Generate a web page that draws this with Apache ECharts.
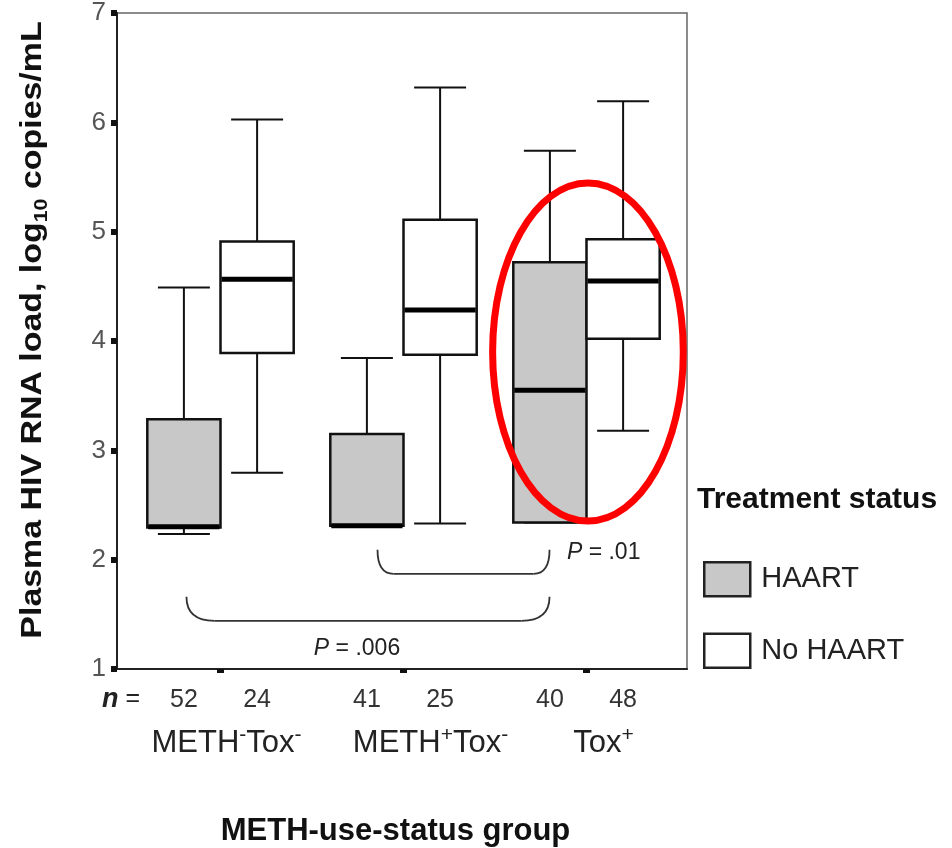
<!DOCTYPE html>
<html><head><meta charset="utf-8">
<script src="https://cdn.jsdelivr.net/npm/echarts@6/dist/echarts.min.js"></script>
<style>html,body{margin:0;padding:0;background:#fff}#c{width:952px;height:848px}</style>
</head><body><div id="c"></div>
<script>
// ---------------- data ----------------
const categories = ['METH-Tox-', 'METH+Tox-', 'Tox+'];
const seriesNames = ['HAART', 'No HAART'];
// [min, Q1, median, Q3, max] in log10 copies/mL
const haartStats = [
  [2.235, 2.295, 2.30, 3.285, 4.49],
  [2.31, 2.31, 2.31, 3.15, 3.845],
  [2.34, 2.34, 3.55, 4.72, 5.74]
];
const noHaartStats = [
  [2.795, 3.89, 4.565, 4.91, 6.025],
  [2.33, 3.875, 4.284, 5.11, 6.318],
  [3.18, 4.02, 4.549, 4.93, 6.193]
];
const haartN = [52, 41, 40];
const noHaartN = [24, 25, 48];
const yTicks = [1, 2, 3, 4, 5, 6, 7];
const yTitle = ['Plasma HIV RNA load, log', '10', ' copies/mL'];
const xTitle = 'METH-use-status group';
// significance brackets: [fromGroup, toGroup, topLevel, bottomLevel]
const brackets = [[0, 2, 1.66, 1.44], [1, 2, 2.09, 1.87]];
const pLabels = ['P = .006', 'P = .01'];
// highlighted group (red ellipse): [group, centre value]
const highlight = [2, 3.90];

// ---------------- layout / style ----------------
const FONT = 'Liberation Sans, Arial, Helvetica, sans-serif';
const BOX_FRAC = 0.4;          // box width as fraction of category band
const CAP_FRAC = 0.71;         // whisker cap width as fraction of box width
const bracketEnds = [[-0.186, -0.202], [-0.142, -0.202]]; // band offsets of bracket ends
const bracketRadius = [28, 16];
const pLabelPos = [[1, -0.254, 1.183, 'center'], [2, -0.107, 2.061, 'left']];
const ellipseShape = [0.008, 0.521, 1.546]; // [x offset (band), rx (band), ry (data units)]
const labelShift = [12, 54, 34]; // left padding to nudge category labels

function boxRender(side, fill) {
  return function (params, api) {
    const g = api.value(0);
    const band = api.size([1, 0])[0];
    const cx0 = api.coord([g, 1])[0];
    const w = band * BOX_FRAC;
    const xc = cx0 + side * w / 2;
    const left = xc - w / 2;
    const y = k => api.coord([g, api.value(k)])[1];
    const yMin = y(1), yQ1 = y(2), yMed = y(3), yQ3 = y(4), yMax = y(5);
    const cap = w * CAP_FRAC;
    const yAxisBottom = api.coord([g, 1])[1];
    const ls = { stroke: '#111', lineWidth: 2 };
    return {
      type: 'group',
      children: [
        { type: 'line', shape: { x1: xc, y1: yQ3, x2: xc, y2: yMax }, style: ls },
        { type: 'line', shape: { x1: xc - cap / 2, y1: yMax, x2: xc + cap / 2, y2: yMax }, style: ls },
        { type: 'line', shape: { x1: xc, y1: yQ1, x2: xc, y2: yMin }, style: ls },
        { type: 'line', shape: { x1: xc - cap / 2, y1: yMin, x2: xc + cap / 2, y2: yMin }, style: ls },
        { type: 'rect', shape: { x: left, y: yQ3, width: w, height: yQ1 - yQ3 },
          style: { fill: fill, stroke: '#111', lineWidth: 2.5 } },
        { type: 'line', shape: { x1: left + 1, y1: yMed, x2: left + w - 1, y2: yMed },
          style: { stroke: '#000', lineWidth: 5 } },
        { type: 'text', x: xc, y: yAxisBottom + 31,
          style: { text: String(api.value(6)), fontSize: 25, fontFamily: FONT, fill: '#333',
                   align: 'center', verticalAlign: 'middle' } }
      ]
    };
  };
}

function bracketRender(params, api) {
  const i = params.dataIndex;
  const band = api.size([1, 0])[0];
  const g1 = api.value(0), g2 = api.value(1);
  const x1 = api.coord([g1, 1])[0] + bracketEnds[i][0] * band;
  const x2 = api.coord([g2, 1])[0] + bracketEnds[i][1] * band;
  const yT = api.coord([g1, api.value(2)])[1];
  const yB = api.coord([g1, api.value(3)])[1];
  const r = bracketRadius[i];
  const st = { stroke: '#333', lineWidth: 1.8, fill: null };
  const lp = pLabelPos[i];
  const lx = api.coord([lp[0], 1])[0] + lp[1] * band;
  const ly = api.coord([lp[0], lp[2]])[1];
  return {
    type: 'group',
    children: [
      { type: 'bezierCurve', shape: { x1: x1, y1: yT, cpx1: x1, cpy1: yB, x2: x1 + r, y2: yB }, style: st },
      { type: 'line', shape: { x1: x1 + r, y1: yB, x2: x2 - r, y2: yB }, style: st },
      { type: 'bezierCurve', shape: { x1: x2 - r, y1: yB, cpx1: x2, cpy1: yB, x2: x2, y2: yT }, style: st },
      { type: 'text', x: lx, y: ly,
        style: { text: '{i|P}' + pLabels[i].slice(1), fontSize: 23, fontFamily: FONT, fill: '#222',
                 align: lp[3], verticalAlign: 'middle',
                 rich: { i: { fontStyle: 'italic', fontSize: 23, fontFamily: FONT, fill: '#222' } } } }
    ]
  };
}

function ellipseRender(params, api) {
  const band = api.size([1, 0])[0];
  const c = api.coord([api.value(0), api.value(1)]);
  const ry = Math.abs(api.coord([api.value(0), api.value(1) + ellipseShape[2]])[1] - c[1]);
  return {
    type: 'ellipse',
    shape: { cx: c[0] + ellipseShape[0] * band, cy: c[1], rx: ellipseShape[1] * band, ry: ry },
    style: { fill: null, stroke: '#ff0000', lineWidth: 7 }
  };
}

const chart = echarts.init(document.getElementById('c'), null, { renderer: 'canvas' });
chart.setOption({
  animation: false,
  backgroundColor: '#fff',
  textStyle: { fontFamily: FONT },
  title: {
    text: 'Treatment status', left: 697, top: 485, padding: 0,
    textStyle: { fontSize: 30, fontWeight: 'bold', color: '#111', fontFamily: FONT }
  },
  legend: {
    orient: 'vertical', left: 703, top: 561, padding: 0,
    itemWidth: 46, itemHeight: 34, itemGap: 35, icon: 'rect', selectedMode: false,
    textStyle: { fontSize: 29, color: '#222', fontFamily: FONT, padding: [18, 0, 0, 6] },
    data: [
      { name: seriesNames[0], itemStyle: { color: '#c8c8c8', borderColor: '#222', borderWidth: 2.5 } },
      { name: seriesNames[1], itemStyle: { color: '#ffffff', borderColor: '#222', borderWidth: 2.5 } }
    ]
  },
  grid: [
    { left: 117, top: 13, width: 570, height: 656, show: true, borderColor: '#666', borderWidth: 1.5,
      outerBoundsMode: 'none', containLabel: false },
    { left: 129, top: 13, width: 549, height: 656, outerBoundsMode: 'none', containLabel: false }
  ],
  xAxis: [
    { gridIndex: 0, type: 'value', min: 0, max: 1,
      axisLine: { show: true, lineStyle: { color: '#222', width: 2 } },
      axisTick: { show: false }, axisLabel: { show: false }, splitLine: { show: false } },
    { gridIndex: 1, type: 'category',
      data: categories.map((c, i) => ({ value: c, textStyle: { padding: [0, 0, 0, labelShift[i]] } })),
      axisLine: { show: false },
      axisTick: { show: true, alignWithLabel: true, length: 4, lineStyle: { color: '#111', width: 7 } },
      axisLabel: {
        margin: 56,
        formatter: v => v.split(/([+-])/).filter(Boolean)
          .map(p => (p === '+' || p === '-') ? '{s|' + p + '}' : '{c|' + p + '}').join(''),
        rich: {
          c: { fontSize: 31, lineHeight: 36, color: '#222', fontFamily: FONT },
          s: { fontSize: 21, lineHeight: 16, verticalAlign: 'top', color: '#222', fontFamily: FONT }
        }
      },
      name: xTitle, nameLocation: 'middle', nameGap: 147,
      nameTextStyle: { fontSize: 31, fontWeight: 'bold', color: '#111', fontFamily: FONT, padding: [0, 16, 0, 0] }
    }
  ],
  yAxis: [
    { gridIndex: 0, type: 'value', min: 1, max: 7, interval: 1,
      axisLine: { show: true, lineStyle: { color: '#222', width: 2 } },
      axisTick: { show: true, length: 6, lineStyle: { color: '#111', width: 6 }, customValues: yTicks },
      axisLabel: { fontSize: 26, color: '#555', margin: 11, fontFamily: FONT, customValues: yTicks },
      splitLine: { show: false }
    },
    { gridIndex: 1, type: 'value', min: 1, max: 7, show: false }
  ],
  graphic: [
    { type: 'text', left: 102, top: 686,
      style: { text: '{i|n} =', fontSize: 25, fill: '#222', fontFamily: FONT,
               rich: { i: { fontStyle: 'italic', fontWeight: 'bold', fontSize: 27, fill: '#222', fontFamily: FONT } } } },
    { type: 'text', x: 33, y: 330, rotation: Math.PI / 2, scaleX: 1.13,
      style: {
        text: '{b|' + yTitle[0] + '}{u|' + yTitle[1] + '}{b|' + yTitle[2] + '}',
        align: 'center', verticalAlign: 'middle', fill: '#111',
        rich: {
          b: { fontSize: 30, fontWeight: 'bold', lineHeight: 36, fill: '#111', fontFamily: FONT },
          u: { fontSize: 19, fontWeight: 'bold', lineHeight: 16, verticalAlign: 'bottom', fill: '#111', fontFamily: FONT }
        }
      } }
  ],
  series: [
    { name: seriesNames[0], type: 'custom', xAxisIndex: 1, yAxisIndex: 1,
      itemStyle: { color: '#c8c8c8', borderColor: '#222' },
      encode: { x: 0, y: [1, 2, 3, 4, 5] },
      data: haartStats.map((s, i) => [i].concat(s, [haartN[i]])),
      renderItem: boxRender(-1, '#c8c8c8'), z: 3 },
    { name: seriesNames[1], type: 'custom', xAxisIndex: 1, yAxisIndex: 1,
      itemStyle: { color: '#ffffff', borderColor: '#222' },
      encode: { x: 0, y: [1, 2, 3, 4, 5] },
      data: noHaartStats.map((s, i) => [i].concat(s, [noHaartN[i]])),
      renderItem: boxRender(1, '#ffffff'), z: 3 },
    { name: 'brackets', type: 'custom', xAxisIndex: 1, yAxisIndex: 1,
      encode: { x: [0, 1], y: [2, 3] }, data: brackets, renderItem: bracketRender, z: 2 },
    { name: 'highlight', type: 'custom', xAxisIndex: 1, yAxisIndex: 1,
      encode: { x: 0, y: 1 }, data: [highlight], renderItem: ellipseRender, z: 10 }
  ]
});
</script>
</body></html>
